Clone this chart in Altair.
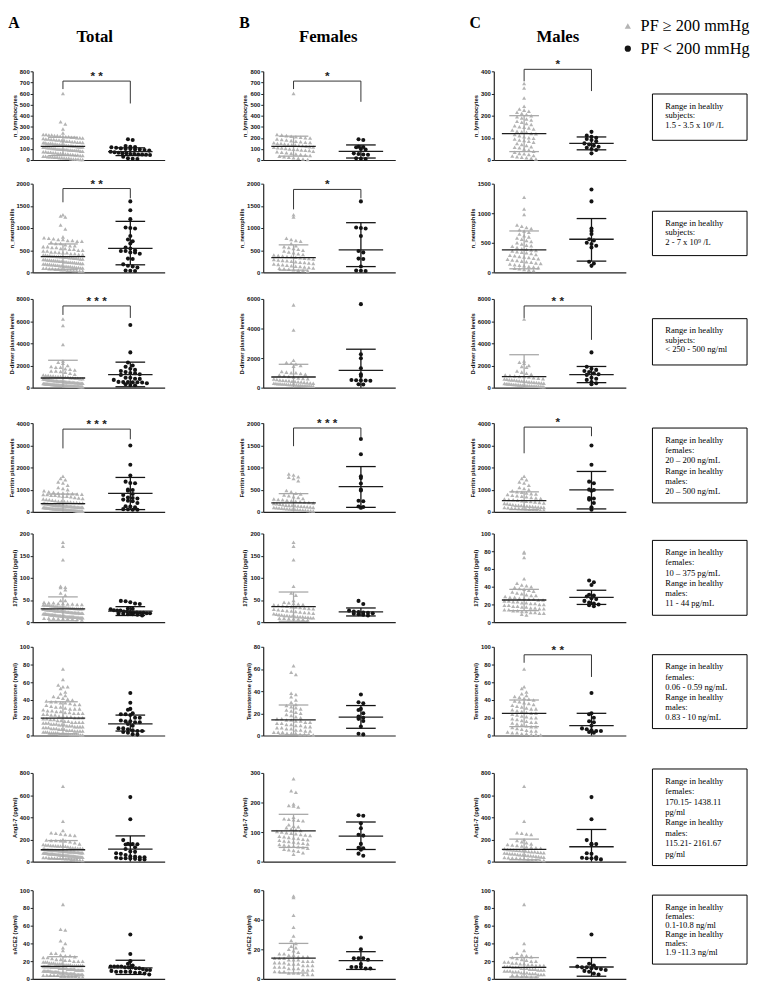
import altair as alt
import pandas as pd

# ---------------- categories / labels ----------------
GROUPS = ["PF ≥ 200 mmHg", "PF < 200 mmHg"]
GROUP_COLORS = ["#b4b4b4", "#141414"]
GROUP_SHAPES = ["triangle-up", "circle"]
PANEL_LETTERS = ["A", "B", "C"]
PANEL_TITLES = ["Total", "Females", "Males"]
Y_TITLES = ["n_lymphocytes", "n_neutrophills", "D-dimer plasma levels",
            "Ferritin plasma levels", "17β-estradiol (pg/ml)", "Testosterone (ng/ml)",
            "Ang1-7 (pg/ml)", "sACE2 (ng/ml)"]
Y_MAX = [[800, 800, 400], [2000, 2000, 1500], [8000, 6000, 8000], [4000, 2000, 4000],
         [200, 200, 100], [100, 80, 100], [800, 300, 800], [100, 60, 100]]
Y_STEP = [[100, 100, 100], [500, 500, 500], [2000, 2000, 2000], [1000, 500, 1000],
          [50, 50, 20], [20, 20, 20], [200, 100, 200], [20, 20, 20]]

# ---------------- individual values (F = females, M = males; HI = PF>=200, LO = PF<200) ----------------
LYM_F_HI = [600, 230, 225, 220, 215, 210, 205, 200, 198, 190, 185, 180, 175, 170, 165, 160, 158, 155, 150,
            148, 145, 140, 138, 135, 130, 128, 125, 120, 118, 115, 110, 108, 105, 100, 98, 95, 90, 88, 85,
            80, 75, 70, 65, 60, 55, 50, 45, 40, 35, 30, 25, 20, 15, 10, 5]
LYM_M_HI = [345, 325, 280, 243, 230, 225, 220, 215, 210, 205, 200, 195, 190, 185, 180, 175, 170, 165, 160,
            155, 150, 148, 145, 140, 135, 130, 128, 125, 120, 118, 115, 110, 105, 100, 98, 95, 90, 88, 85,
            80, 75, 70, 65, 60, 58, 55, 50, 45, 40, 35, 30, 28, 25, 20, 18, 15, 12, 10, 8, 5]
LYM_F_LO = [187, 180, 120, 118, 115, 100, 95, 60, 55, 50, 48, 15, 12, 10]
LYM_M_LO = [127, 110, 105, 100, 95, 90, 85, 75, 70, 65, 60, 55, 50, 45, 30]

NEU_F_HI = [1300, 1250, 770, 740, 720, 700, 650, 600, 580, 560, 540, 520, 500, 480, 460, 440, 420, 400, 390,
            380, 370, 360, 350, 340, 330, 320, 310, 300, 290, 280, 270, 260, 250, 240, 230, 220, 210, 200,
            190, 180, 170, 160, 150, 140, 130, 120, 110, 100, 90, 80, 70, 60, 50, 40, 30]
NEU_M_HI = [1270, 1070, 980, 800, 780, 760, 740, 720, 700, 680, 650, 620, 600, 580, 560, 540, 520, 500, 480,
            460, 450, 440, 420, 400, 390, 380, 370, 360, 350, 340, 330, 320, 300, 290, 280, 270, 260, 250,
            240, 230, 220, 210, 200, 190, 180, 170, 160, 150, 140, 130, 120, 110, 100, 90, 80, 70, 60, 50,
            40, 30]
NEU_F_LO = [1600, 1010, 1000, 990, 820, 480, 450, 310, 300, 130, 40, 35, 30]
NEU_M_LO = [1400, 1200, 740, 700, 650, 560, 540, 500, 480, 450, 420, 180, 150, 110]

DDI_F_HI = [5600, 3900, 1850, 1700, 1650, 1600, 1500, 1450, 1100, 1050, 1000, 1000, 950, 900, 850, 800, 750,
            700, 650, 620, 600, 580, 550, 520, 500, 480, 460, 440, 420, 400, 380, 360, 340, 320, 300, 290,
            280, 270, 260, 250, 240, 230, 220, 210, 200, 190, 180, 170, 160, 150, 140, 130, 120, 110, 100]
DDI_M_HI = [6200, 2400, 2300, 2200, 2000, 1900, 1850, 1500, 1400, 1300, 1200, 1150, 1100, 1050, 1000, 1000,
            950, 900, 850, 800, 780, 750, 720, 700, 680, 650, 620, 600, 580, 550, 520, 500, 480, 460, 440,
            420, 400, 380, 360, 340, 320, 300, 290, 280, 260, 250, 240, 220, 200, 190, 180, 170, 160, 150,
            140, 130, 120, 110, 100, 90]
DDI_F_LO = [5650, 2260, 1990, 1310, 900, 790, 520, 500, 490, 480, 470, 230, 210]
DDI_M_LO = [3180, 1880, 1700, 1600, 1500, 1400, 1300, 1200, 1150, 900, 800, 700, 500, 400, 300]

FER_F_HI = [850, 830, 790, 780, 750, 700, 480, 450, 420, 400, 380, 360, 340, 320, 300, 290, 280, 270, 260,
            250, 240, 230, 220, 210, 200, 190, 180, 170, 160, 150, 145, 140, 135, 130, 125, 120, 115, 110,
            100, 95, 90, 85, 80, 75, 70, 65, 60, 55, 50, 45, 40, 35, 30, 25, 20]
FER_M_HI = [1600, 1500, 1450, 1350, 1300, 1200, 1100, 1050, 1000, 950, 900, 880, 850, 820, 800, 780, 750,
            720, 700, 680, 650, 620, 600, 580, 560, 540, 520, 500, 480, 460, 440, 420, 400, 380, 360, 340,
            320, 300, 290, 280, 270, 260, 250, 240, 230, 220, 210, 200, 190, 180, 170, 160, 150, 140, 130,
            120, 110, 100, 90, 80]
FER_F_LO = [1640, 1300, 800, 760, 640, 500, 480, 250, 240, 120, 110, 90]
FER_M_LO = [2990, 2120, 1360, 1290, 1000, 980, 950, 620, 600, 550, 400, 200, 90]

EST_F_HI = [180, 171, 141, 81, 66, 61, 49, 45, 44, 42, 41, 40, 39, 38, 37, 36, 35, 34, 33, 32, 31, 30, 29,
            28, 27, 26, 25, 24, 23, 22, 21, 20, 19, 18, 17, 16, 15, 15, 14, 14, 13, 13, 12, 12, 11, 11, 10,
            10, 9, 9, 8, 8, 7, 6, 5]
EST_M_HI = [79, 78, 73, 49, 44, 42, 41, 40, 39, 38, 37, 36, 35, 34, 33, 32, 31, 30, 30, 29, 28, 28, 27, 27,
            26, 26, 25, 25, 24, 24, 23, 23, 22, 22, 21, 21, 20, 20, 19, 19, 18, 18, 17, 17, 16, 16, 15, 15,
            14, 14, 13, 13, 12, 12, 11, 11, 10, 10, 9, 8]
EST_F_LO = [48, 41, 26, 24, 23, 22, 21, 20, 19, 18, 17, 15]
EST_M_LO = [47, 45, 42, 31, 30, 29, 27, 26, 24, 22, 21, 20, 19, 18]

TES_F_HI = [63, 57, 55, 38, 37, 35, 32, 30, 28, 27, 26, 25, 24, 23, 22, 21, 20, 19, 18, 17, 16, 15, 15, 14,
            14, 13, 13, 12, 12, 11, 11, 10, 10, 9, 9, 8, 8, 7, 7, 6, 6, 5, 5, 4, 4, 3, 3, 3, 2, 2, 2, 1, 1,
            1, 0.5]
TES_M_HI = [75, 55, 53, 49, 47, 45, 44, 43, 42, 41, 40, 39, 38, 37, 36, 35, 34, 33, 32, 31, 30, 30, 29, 28,
            27, 26, 25, 25, 24, 23, 22, 21, 20, 20, 19, 18, 17, 16, 15, 15, 14, 13, 12, 11, 10, 10, 9, 8, 7,
            6, 5, 5, 4, 3, 3, 2, 2, 1, 1, 0.5]
TES_F_LO = [37, 30, 29, 24, 23, 20, 17, 16, 15, 13, 8, 1.5, 1]
TES_M_LO = [48, 25, 24, 20, 16, 15, 11, 8, 7, 6, 5, 5, 4, 3]

ANG_F_HI = [280, 240, 235, 195, 190, 188, 185, 150, 145, 143, 142, 140, 138, 125, 120, 118, 115, 110, 108,
            105, 102, 100, 98, 96, 94, 92, 90, 88, 86, 84, 82, 80, 78, 76, 74, 72, 70, 68, 66, 64, 62, 60,
            58, 56, 54, 52, 50, 48, 45, 42, 40, 38, 35, 30, 25]
ANG_M_HI = [680, 364, 260, 255, 250, 245, 200, 190, 180, 170, 160, 155, 150, 145, 140, 135, 130, 125, 120,
            115, 110, 108, 105, 102, 100, 98, 95, 92, 90, 88, 85, 82, 80, 78, 75, 72, 70, 68, 65, 62, 60, 58,
            55, 52, 50, 48, 45, 42, 40, 38, 35, 32, 30, 28, 25, 22, 20, 18, 15, 10]
ANG_F_LO = [157, 155, 130, 113, 91, 88, 60, 47, 45, 40, 27, 20]
ANG_M_LO = [582, 382, 194, 160, 158, 155, 75, 70, 40, 35, 30, 30, 25, 20]

ACE_F_HI = [56, 55, 43, 35, 29, 26, 24, 22, 21, 20, 19, 18, 17, 17, 16, 16, 15, 15, 15, 14, 14, 14, 13, 13,
            13, 12, 12, 12, 11, 11, 11, 10, 10, 10, 9, 9, 9, 8, 8, 8, 7, 7, 7, 6, 6, 6, 5, 5, 5, 4, 4, 4, 3,
            3, 3]
ACE_M_HI = [84, 40, 32, 29, 27, 26, 25, 24, 23, 22, 21, 20, 20, 19, 19, 18, 18, 17, 17, 16, 16, 15, 15, 15,
            14, 14, 14, 13, 13, 13, 12, 12, 12, 11, 11, 11, 10, 10, 10, 9, 9, 9, 8, 8, 8, 7, 7, 7, 6, 6, 6,
            5, 5, 5, 4, 4, 3, 3, 2, 2]
ACE_F_LO = [28, 20, 14, 14, 14, 13, 10, 8, 8, 8, 7, 7]
ACE_M_LO = [50, 17, 15, 14, 13, 13, 12, 12, 11, 10, 9, 8, 6, 5]

VALUES = [(LYM_F_HI, LYM_F_LO, LYM_M_HI, LYM_M_LO), (NEU_F_HI, NEU_F_LO, NEU_M_HI, NEU_M_LO),
          (DDI_F_HI, DDI_F_LO, DDI_M_HI, DDI_M_LO), (FER_F_HI, FER_F_LO, FER_M_HI, FER_M_LO),
          (EST_F_HI, EST_F_LO, EST_M_HI, EST_M_LO), (TES_F_HI, TES_F_LO, TES_M_HI, TES_M_LO),
          (ANG_F_HI, ANG_F_LO, ANG_M_HI, ANG_M_LO), (ACE_F_HI, ACE_F_LO, ACE_M_HI, ACE_M_LO)]

# ---------------- mean and SD bars: [row][Total, Females, Males] ----------------
CTR_HI = [[123, 124, 119], [355, 333, 380], [870, 720, 1000], [370, 200, 500],
          [30, 35, 25], [19.6, 14, 25], [107, 104, 110], [14, 14, 13]]
UP_HI = [[205, 215, 200], [640, 620, 700], [2470, 1580, 2970], [800, 410, 900],
         [57, 68, 37], [38, 27.5, 40], [190, 160, 203], [25, 24, 24]]
LOW_HI = [[40, 35, 38], [70, 50, 60], [0, 0, 0], [0, 0, 100],
          [3, 2, 13], [2, 0.5, 10], [24, 48, 17], [3, 4, 2]]
CTR_LO = [[76, 77, 75], [540, 505, 560], [1180, 1175, 1180], [830, 570, 990],
          [25, 23, 28], [13, 16.5, 11], [112, 86, 134], [12.5, 12.4, 13.4]]
UP_LO = [[110, 136, 104], [1150, 1120, 910], [2300, 2600, 1910], [1550, 1020, 1820],
         [35, 32, 36], [23, 27, 25], [232, 134, 290], [21, 18.4, 24]]
LOW_LO = [[40, 18, 46], [170, 130, 190], [80, 0, 450], [100, 100, 130],
          [15, 14, 20], [5, 6.5, 0], [0, 41, 0], [5, 6.4, 3]]

# significance brackets: (row, col, label, bracket level, left leg end, right leg end)
BRACKETS = [(0, 0, "* *", 712, 640, 510), (0, 1, "*", 712, 640, 525), (0, 2, "*", 409, 355, 311),
            (1, 0, "* *", 1890, 1580, 1670), (1, 1, "*", 1870, 1420, 1670),
            (2, 0, "* * *", 7370, 6560, 6290), (2, 2, "* *", 7370, 6290, 4310),
            (3, 0, "* * *", 3730, 2860, 3270), (3, 1, "* * *", 1890, 1480, 1660),
            (3, 2, "*", 3820, 2640, 3410), (5, 2, "* *", 91, 82, 66)]

RANGE_TEXT = [
    ["Range in healthy", "subjects:", "1.5 - 3.5 x 10⁹ /L"],
    ["Range in healthy", "subjects:", "2 - 7 x 10⁹ /L"],
    ["Range in healthy", "subjects:", "< 250 - 500 ng/ml"],
    ["Range in healthy", "females:", "20 – 200 ng/mL", "Range in healthy", "males:", "20 – 500 ng/mL"],
    ["Range in healthy", "females:", "10 – 375 pg/mL", "Range in healthy", "males:", "11 - 44 pg/mL"],
    ["Range in healthy", "females:", "0.06 - 0.59 ng/mL", "Range in healthy", "males:", "0.83 - 10 ng/mL"],
    ["Range in healthy", "females:", "170.15- 1438.11", "pg/ml", "Range in healthy", "males:",
     "115.21- 2161.67", "pg/ml"],
    ["Range in healthy", "females:", "0.1-10.8 ng/ml", "Range in healthy", "males:", "1.9 -11.3 ng/ml"],
]

# ---------------- layout ----------------
PANEL_W = 134
PANEL_H = 90
COL_GAP = 100
BOX_GAP = 27
BOX_W = 96
HEADER_H = 55
ROW_GAPS = [24, 27, 36, 22, 25, 38, 29]
BOX_SPAN = [(23, 70), (28, 73), (20, 67), (5, 81), (7, 83), (8, 83), (-4, 94), (5, 75)]
X_DOMAIN = [-0.45, 1.51]
PX_PER_UNIT = PANEL_W / (X_DOMAIN[1] - X_DOMAIN[0])
SERIF = "Liberation Serif"
SANS = "Liberation Sans"

COLOR_SCALE = alt.Scale(domain=GROUPS, range=GROUP_COLORS)
SHAPE_SCALE = alt.Scale(domain=GROUPS, range=GROUP_SHAPES)


def swarm(vals, ymax):
    """Column-scatter layout: values in the same height band are spread side by side."""
    band = ymax * 4.4 / PANEL_H
    bands = {}
    for v in sorted(vals, reverse=True):
        bands.setdefault(int(v // band), []).append(v)
    out = []
    for vs in bands.values():
        n = len(vs)
        step = min(4.8, 40.0 / (n - 1)) if n > 1 else 0.0
        for i, v in enumerate(vs):
            out.append((v, (i - (n - 1) / 2.0) * step / PX_PER_UNIT))
    return out


def spacer(w, h):
    return alt.Chart(pd.DataFrame({"k": [0]})).mark_point(opacity=0, size=1).encode(
        x=alt.value(1), y=alt.value(1)).properties(width=w, height=h)


def panel(r, c):
    f_hi, f_lo, m_hi, m_lo = VALUES[r]
    if c == 0:
        hi, lo = f_hi + m_hi, f_lo + m_lo
    elif c == 1:
        hi, lo = f_hi, f_lo
    else:
        hi, lo = m_hi, m_lo
    ymax = Y_MAX[r][c]
    rows = []
    for gi, vals in enumerate([hi, lo]):
        for v, dx in swarm(vals, ymax):
            rows.append({"g": GROUPS[gi], "x": gi + dx, "v": v})
    pts = pd.DataFrame(rows)

    ticks = list(range(0, ymax + 1, Y_STEP[r][c]))
    xenc = alt.X("x:Q", scale=alt.Scale(domain=X_DOMAIN, nice=False, zero=False),
                 axis=alt.Axis(labels=False, ticks=False, title=None, grid=False))
    yenc = alt.Y("v:Q", scale=alt.Scale(domain=[0, ymax], nice=False),
                 axis=alt.Axis(values=ticks, tickCount=len(ticks), format="d",
                               title=Y_TITLES[r], grid=False, labelOverlap=False))
    points = alt.Chart(pts).mark_point(filled=True, opacity=1, size=17).encode(
        x=xenc, y=yenc,
        color=alt.Color("g:N", scale=COLOR_SCALE, legend=None),
        shape=alt.Shape("g:N", scale=SHAPE_SCALE, legend=None),
    )

    bars = []
    stats = [(0, CTR_HI[r][c], UP_HI[r][c], LOW_HI[r][c], "#a8a8a8"),
             (1, CTR_LO[r][c], UP_LO[r][c], LOW_LO[r][c], "#141414")]
    for gx, ctr, up, low, col in stats:
        bars.append({"x": gx, "x2": gx, "v": max(low, 0), "v2": up, "col": col})
        bars.append({"x": gx - 0.22, "x2": gx + 0.22, "v": up, "v2": up, "col": col})
        if low > 0:
            bars.append({"x": gx - 0.22, "x2": gx + 0.22, "v": low, "v2": low, "col": col})
        bars.append({"x": gx - 0.33, "x2": gx + 0.33, "v": ctr, "v2": ctr, "col": "#1e1e1e"})
    bar_df = pd.DataFrame(bars)
    errs = alt.Chart(bar_df).mark_rule(strokeWidth=1.3).encode(
        x="x:Q", x2="x2:Q", y="v:Q", y2="v2:Q", stroke=alt.Stroke("col:N", scale=None))

    layers = [points, errs]
    for (br, bc, label, top, lend, rend) in BRACKETS:
        if br == r and bc == c:
            bdf = pd.DataFrame([{"x": 0, "x2": 1, "v": top, "v2": top},
                                {"x": 0, "x2": 0, "v": top, "v2": lend},
                                {"x": 1, "x2": 1, "v": top, "v2": rend}])
            layers.append(alt.Chart(bdf).mark_rule(color="#333333", strokeWidth=1).encode(
                x="x:Q", x2="x2:Q", y="v:Q", y2="v2:Q"))
            tdf = pd.DataFrame([{"x": 0.5, "v": top, "t": label}])
            layers.append(alt.Chart(tdf).mark_text(font=SANS, fontSize=12, fontWeight="bold",
                                                   baseline="alphabetic", dy=-1, color="#222222").encode(
                x="x:Q", y="v:Q", text="t:N"))
    return alt.layer(*layers).properties(width=PANEL_W, height=PANEL_H)


def range_box(r):
    top, bottom = BOX_SPAN[r]
    lines = RANGE_TEXT[r]
    n = len(lines)
    spacing = 9.5 if n <= 3 else (bottom - top - 24) / (n - 1)
    tdf = pd.DataFrame({"line": lines,
                        "py": [top + 12 + i * spacing for i in range(n)],
                        "order": list(range(n))})
    rect = alt.Chart(pd.DataFrame({"k": [0]})).mark_rect(
        fill="white", stroke="black", strokeWidth=1).encode(
        x=alt.value(0), x2=alt.value(BOX_W), y=alt.value(top), y2=alt.value(bottom))
    txt = alt.Chart(tdf).mark_text(align="left", baseline="middle", font=SERIF, fontSize=8.7,
                                   color="black").encode(
        x=alt.value(13), y=alt.Y("py:Q", scale=None), text="line:N", detail="order:O")
    return alt.layer(rect, txt).properties(width=BOX_W, height=PANEL_H)


TITLE_DX = [63, 66, 65]


def header_cell(i):
    hdf = pd.DataFrame([{"t": PANEL_LETTERS[i], "px": -19, "py": 6, "s": 16},
                        {"t": PANEL_TITLES[i], "px": TITLE_DX[i], "py": 20, "s": 17}])
    return alt.Chart(hdf).mark_text(font=SERIF, fontWeight="bold", align="center",
                                    baseline="middle", color="black").encode(
        x=alt.X("px:Q", scale=None), y=alt.Y("py:Q", scale=None), text="t:N",
        size=alt.Size("s:Q", scale=None)).properties(width=PANEL_W, height=HEADER_H)


def legend_cell():
    ldf = pd.DataFrame({"g": GROUPS})
    yenc = alt.Y("g:N", scale=alt.Scale(type="point", domain=GROUPS, range=[9, 32], padding=0),
                 axis=None)
    sym = alt.Chart(ldf).mark_point(filled=True, opacity=1, size=40).encode(
        x=alt.value(-25), y=yenc,
        color=alt.Color("g:N", scale=COLOR_SCALE, legend=None),
        shape=alt.Shape("g:N", scale=SHAPE_SCALE, legend=None))
    lab = alt.Chart(ldf).mark_text(align="left", baseline="middle", font=SERIF, fontSize=16.5,
                                   color="black").encode(x=alt.value(-12), y=yenc, text="g:N")
    return alt.layer(sym, lab).properties(width=BOX_W, height=HEADER_H)


spacer_w = COL_GAP - 2 * BOX_GAP
cells = [header_cell(0), spacer(spacer_w, 1), header_cell(1), spacer(spacer_w, 1), header_cell(2),
         legend_cell()]
for r in range(8):
    cells += [panel(r, 0), spacer(spacer_w, PANEL_H), panel(r, 1), spacer(spacer_w, PANEL_H),
              panel(r, 2), range_box(r)]
    if r < 7:
        cells += [spacer(1, ROW_GAPS[r]) for _ in range(6)]

chart = alt.concat(*cells, columns=6, spacing={"row": 0, "column": BOX_GAP}, bounds="flush").properties(
    padding={"left": 0, "top": 0, "right": 0, "bottom": 0}
).configure_view(stroke=None).configure_axis(
    domainColor="#222222", tickColor="#222222", labelColor="#111111", titleColor="#111111",
    labelFont=SANS, labelFontSize=6, labelFontWeight="bold", titleFont=SANS, titleFontSize=5.9,
    titleFontWeight="bold", tickSize=2.5, labelPadding=1, titlePadding=2, domainWidth=1.2,
    labelOverlap=False
)

chart.save("out.html", embed_options={"renderer": "svg", "actions": False})
